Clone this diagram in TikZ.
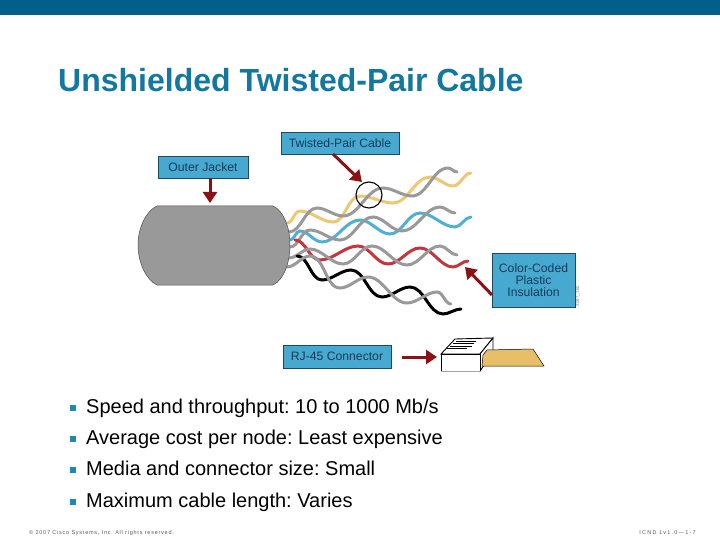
\documentclass[tikz,border=0pt]{standalone}
\usepackage{fontspec}
\setmainfont{Liberation Sans}
\usetikzlibrary{arrows.meta,positioning}
\frenchspacing

\definecolor{barteal}{HTML}{00608A}
\definecolor{titleteal}{HTML}{13789F}
\definecolor{bulletteal}{HTML}{1F8AB0}
\definecolor{labelblue}{HTML}{47A9D0}
\definecolor{labeledge}{HTML}{1D4A60}
\definecolor{labeltext}{HTML}{123C5A}
\definecolor{arrowred}{HTML}{8A1214}
\definecolor{wiregray}{HTML}{999999}
\definecolor{wireyellow}{HTML}{ECC873}
\definecolor{wireblue}{HTML}{4FB0D3}
\definecolor{wirered}{HTML}{C5363C}
\definecolor{bootyellow}{HTML}{E8BE68}

\begin{document}
\begin{tikzpicture}[x=1pt,y=-1pt]
  %----- styles
  \tikzset{
    label/.style  ={draw=labeledge,line width=0.8pt,fill=labelblue,text=labeltext,inner sep=0pt,font=\fontsize{12.2}{12}\selectfont,align=center},
    arrow/.style  ={-{Triangle[length=11pt,width=14pt]},line width=3pt,color=arrowred},
    wire/.style   ={line width=3pt,line cap=round},
    wave/.style   ={out=0,in=180,looseness=0.85},
    bullet/.style ={anchor=base west,inner sep=0pt,font=\fontsize{20}{21}\selectfont},
    foot/.style   ={inner sep=0pt,text=black!65,font=\fontsize{5.5}{6}\selectfont\addfontfeature{LetterSpace=14}}
  }
  \useasboundingbox (0,0) rectangle (720,540);

  %----- slide frame
  \fill[barteal] (0,0) rectangle (720,15);
  \node[anchor=base west,inner sep=0pt,text=titleteal,font=\fontsize{32}{34}\selectfont\bfseries] (title) at (58,92) {Unshielded Twisted-Pair Cable};

  %----- wires, one pair after the other
  \draw[wire,wireyellow] (287,223) to[wave] (300,211) to[wave] (333,222) to[wave] (360,196) to[wave] (393,203) to[wave] (430,177) to[wave] (453,186) to[wave] (471,173);
  \draw[wire,wiregray] (289,232) to[wave] (317,208) to[wave] (343,216) to[wave] (383,188) to[wave] (412,196) to[wave] (448,168) to[wave] (457,172);

  \draw[wire,wireblue] (290,240) to[wave] (300,231) to[wave] (322,242) to[wave] (360,220) to[wave] (390,234) to[wave] (420,213) to[wave] (455,227) to[wave] (471,217);
  \draw[wire,wiregray] (290,247) to[wave] (310,230) to[wave] (340,240) to[wave] (373,217) to[wave] (402,231) to[wave] (440,207) to[wave] (455,213);

  \draw[wire,wirered] (295,240) to[wave] (320,260) to[wave] (358,246) to[wave] (388,264) to[wave] (420,248) to[wave] (453,267) to[wave] (468,261);
  \draw[wire,wiregray] (289,258) to[wave] (310,249) to[wave] (343,264) to[wave] (372,246) to[wave] (407,265) to[wave] (440,246) to[wave] (457,255);

  \draw[wire,black] (297,256) to[wave] (322,280) to[wave] (351,270) to[wave] (382,297) to[wave] (410,287) to[wave] (443,314) to[wave] (461,309);
  \draw[wire,wiregray] (287,267) to[wave] (310,256) to[wave] (340,288) to[wave] (368,277) to[wave] (407,303) to[wave] (437,292) to[wave] (451,304);

  %----- jacket
  \filldraw[fill=wiregray,draw=black!70,line width=0.5pt] (157,206) -- (273,206)
    .. controls (284,211) and (290,228) .. (290,245)
    .. controls (290,262) and (284,280) .. (273,285) -- (157,285)
    .. controls (146,280) and (138,262) .. (138,245)
    .. controls (138,228) and (146,211) .. (157,206) -- cycle;

  %----- connector
  \filldraw[fill=white,draw=black,line width=0.9pt] (441,354) -- (455,339) -- (493,338) -- (480,354) -- cycle;
  \filldraw[fill=white,draw=black,line width=0.9pt] (480,354) -- (493,338) -- (493,352) -- (480,371) -- cycle;
  \fill[white] (441,354) rectangle (480,371);
  \draw[black!35,line width=0.8pt] (441,371) -- (480,371);
  \draw[black,line width=0.8pt] (441,371) -- (441,354) -- (480,354) -- (480,371);
  \foreach \ypos/\xa/\xb in {341/456/476,343.5/453/474,346/450/472,348.5/447/467}
    \draw[black,line width=0.9pt] (\xa,\ypos) -- (\xb,\ypos);
  \filldraw[fill=bootyellow,draw=black,line width=0.5pt] (482,366) -- (483,355) -- (487,350) -- (533,349) -- (544,366) -- cycle;

  %----- labels
  \node[label,minimum width=118pt,minimum height=21.5pt] (pair) at (340,143.5) {Twisted-Pair Cable};
  \node[label,minimum width=90pt,minimum height=22pt] (jacket) at (203,167) {Outer Jacket};
  \node[label,minimum width=83pt,minimum height=54pt] (plastic) at (533.5,280) {Color-Coded\\Plastic\\Insulation};
  \node[label,minimum width=108pt,minimum height=23pt] (rj) at (337,356.5) {RJ-45 Connector};
  \node[draw,circle,line width=1.1pt,minimum size=26pt,inner sep=0pt] (twist) at (369,195) {};
  \node[rotate=90,inner sep=0pt,text=black!50,font=\fontsize{4.5}{5}\selectfont] (code) at (578,296) {3097\_360};

  %----- arrows
  \coordinate (jacketfoot) at (210,178);
  \coordinate (jackettip) at (210,203);
  \coordinate (pairfoot) at (333,154);
  \coordinate (pairtip) at (362,182);
  \coordinate (plasticfoot) at (492,295);
  \coordinate (plastictip) at (465,267);
  \coordinate (rjfoot) at (402,357);
  \coordinate (rjtip) at (437,357);
  \draw[arrow] (jacketfoot) -- (jackettip);
  \draw[arrow] (pairfoot) -- (pairtip);
  \draw[arrow] (plasticfoot) -- (plastictip);
  \draw[arrow] (rjfoot) -- (rjtip);

  %----- bullets
  \foreach \i/\ypos/\txt in {1/413/{Speed and throughput: 10 to 1000 Mb/s},2/444/{Average cost per node: Least expensive},3/475/{Media and connector size: Small},4/507/{Maximum cable length: Varies}}{
    \fill[bulletteal] (69.5,\ypos-8.5) rectangle (76,\ypos-2.5);
    \node[bullet] (line\i) at (86,\ypos) {\txt};
  }

  %----- footer
  \node[foot,anchor=west] (copyright) at (29,533) {© 2007 Cisco Systems, Inc. All rights reserved.};
  \node[foot,anchor=east,font=\fontsize{5.5}{6}\selectfont\addfontfeature{LetterSpace=22}] (page) at (696,533) {ICND 1v1.0—1-7};
\end{tikzpicture}
\end{document}
